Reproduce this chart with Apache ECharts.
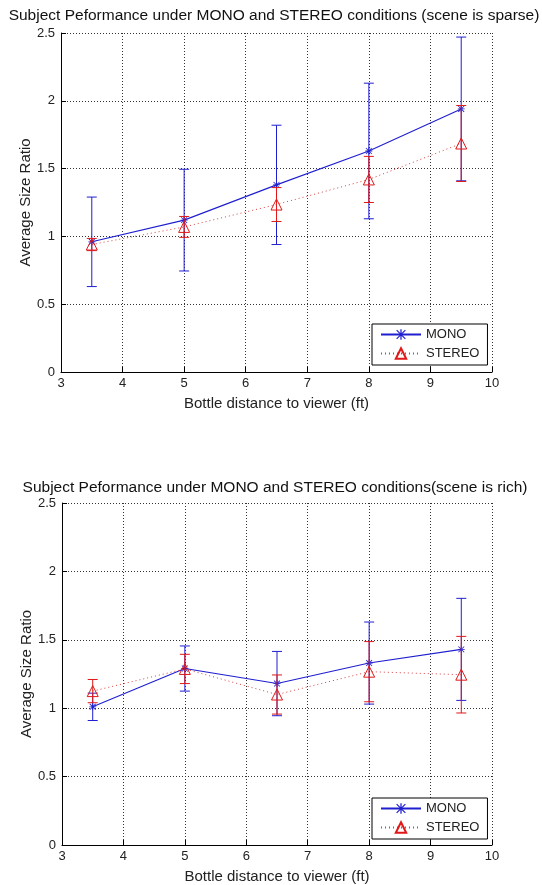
<!DOCTYPE html>
<html>
<head>
<meta charset="utf-8">
<script src="https://cdn.jsdelivr.net/npm/echarts@6/dist/echarts.min.js"></script>
<style>
  html, body { margin: 0; padding: 0; background: #fff; }
  #chart { width: 542px; height: 885px; }
</style>
</head>
<body>
<div id="chart"></div>
<script>
// bottle distances (ft)
var distances = [3.5, 5, 6.5, 8, 9.5];

// scene is sparse
var sparseMono = [0.96, 1.12, 1.38, 1.63, 1.94];
var sparseMonoErr = [0.33, 0.375, 0.44, 0.5, 0.53];
var sparseStereo = [0.94, 1.07, 1.235, 1.42, 1.685];
var sparseStereoErr = [0.045, 0.077, 0.125, 0.17, 0.28];

// scene is rich
var richMono = [1.01, 1.29, 1.18, 1.33, 1.43];
var richMonoErr = [0.1, 0.165, 0.235, 0.3, 0.373];
var richStereo = [1.125, 1.287, 1.1, 1.267, 1.245];
var richStereoErr = [0.085, 0.107, 0.143, 0.22, 0.28];

var titles = [
  'Subject Peformance under MONO and STEREO conditions (scene is sparse)',
  'Subject Peformance under MONO and STEREO conditions(scene is rich)'
];

var BLUE = '#1f1fd0';
var RED = '#e01818';
var FONT = 'Liberation Sans, Arial, sans-serif';
var STAR = 'path://M4.4,0h1.2v10h-1.2z M0,4.4h10v1.2h-10z M1.2,0.4l8.4,8.4l-0.8,0.8l-8.4,-8.4z M8.8,0.4l0.8,0.8l-8.4,8.4l-0.8,-0.8z';

function pairs(ys) {
  return distances.map(function (x, i) { return [x, ys[i]]; });
}
function ranges(ys, errs) {
  return distances.map(function (x, i) { return [x, ys[i] - errs[i], ys[i] + errs[i]]; });
}

function errorBars(data, color, idx, z) {
  return {
    type: 'custom',
    xAxisIndex: idx,
    yAxisIndex: idx,
    z: z,
    silent: true,
    encode: { x: 0, y: [1, 2] },
    data: data,
    renderItem: function (params, api) {
      var x = api.value(0);
      var lo = api.coord([x, api.value(1)]);
      var hi = api.coord([x, api.value(2)]);
      var w = 5;
      var st = { stroke: color, lineWidth: 1 };
      return {
        type: 'group',
        children: [
          { type: 'line', shape: { x1: lo[0], y1: lo[1], x2: hi[0], y2: hi[1] }, style: st },
          { type: 'line', shape: { x1: lo[0] - w, y1: lo[1], x2: lo[0] + w, y2: lo[1] }, style: st },
          { type: 'line', shape: { x1: hi[0] - w, y1: hi[1], x2: hi[0] + w, y2: hi[1] }, style: st }
        ]
      };
    }
  };
}

function monoLine(ys, idx) {
  return {
    name: 'MONO', type: 'line', xAxisIndex: idx, yAxisIndex: idx, z: 3,
    data: pairs(ys), symbol: STAR, symbolSize: 7,
    lineStyle: { color: BLUE, width: 1.1 },
    itemStyle: { color: BLUE },
    animation: false
  };
}
function stereoLine(ys, idx) {
  return {
    name: 'STEREO', type: 'line', xAxisIndex: idx, yAxisIndex: idx, z: 5,
    data: pairs(ys), symbol: 'triangle', symbolSize: 11,
    lineStyle: { color: '#d84040', width: 1, type: [1, 3] },
    itemStyle: { color: 'rgba(0,0,0,0)', borderColor: RED, borderWidth: 1 },
    animation: false
  };
}

function xAx(idx) {
  return {
    type: 'value', gridIndex: idx, min: 3, max: 10, interval: 1,
    name: 'Bottle distance to viewer (ft)', nameLocation: 'middle', nameGap: 24,
    nameMoveOverlap: false,
    nameTextStyle: { color: '#222', fontSize: 15, fontFamily: FONT },
    axisLine: { lineStyle: { color: '#000' } },
    axisTick: { inside: true, length: 5, lineStyle: { color: '#000' } },
    axisLabel: { color: '#222', fontSize: 13, fontFamily: FONT, margin: 5 },
    splitLine: { show: true, lineStyle: { color: '#333', type: [1, 2] } }
  };
}
function yAx(idx) {
  return {
    type: 'value', gridIndex: idx, min: 0, max: 2.5, interval: 0.5,
    name: 'Average Size Ratio', nameLocation: 'middle', nameGap: 28,
    nameMoveOverlap: false,
    nameTextStyle: { color: '#222', fontSize: 15, fontFamily: FONT },
    axisLine: { show: true, lineStyle: { color: '#000' } },
    axisTick: { show: true, inside: true, length: 5, lineStyle: { color: '#000' } },
    axisLabel: { color: '#222', fontSize: 13, fontFamily: FONT, margin: 6 },
    splitLine: { show: true, lineStyle: { color: '#333', type: [1, 2] } }
  };
}
function legendAt(top) {
  return {
    left: 372, top: top, orient: 'vertical',
    data: ['MONO', 'STEREO'],
    itemWidth: 40, itemHeight: 13, itemGap: 6,
    padding: [4, 8, 5, 8],
    borderColor: '#000', borderWidth: 1, backgroundColor: '#fff',
    textStyle: { color: '#222', fontSize: 13, fontFamily: FONT },
    selectedMode: false
  };
}

var chart = echarts.init(document.getElementById('chart'));
chart.setOption({
  animation: false,
  backgroundColor: '#fff',
  title: [
    { text: titles[0], left: 274, top: 8, textAlign: 'center', padding: 0,
      textStyle: { color: '#111', fontSize: 15.5, fontWeight: 'normal', fontFamily: FONT } },
    { text: titles[1], left: 275, top: 480, textAlign: 'center', padding: 0,
      textStyle: { color: '#111', fontSize: 15.5, fontWeight: 'normal', fontFamily: FONT } }
  ],
  grid: [
    { left: 61, right: 50, top: 33, height: 339 },
    { left: 62, right: 50, top: 503, height: 344 }
  ],
  xAxis: [xAx(0), xAx(1)],
  yAxis: [yAx(0), yAx(1)],
  legend: [legendAt(324), legendAt(798)],
  series: [
    errorBars(ranges(sparseMono, sparseMonoErr), BLUE, 0, 2),
    monoLine(sparseMono, 0),
    errorBars(ranges(sparseStereo, sparseStereoErr), RED, 0, 4),
    stereoLine(sparseStereo, 0),
    errorBars(ranges(richMono, richMonoErr), BLUE, 1, 2),
    monoLine(richMono, 1),
    errorBars(ranges(richStereo, richStereoErr), RED, 1, 4),
    stereoLine(richStereo, 1)
  ]
});
</script>
</body>
</html>
